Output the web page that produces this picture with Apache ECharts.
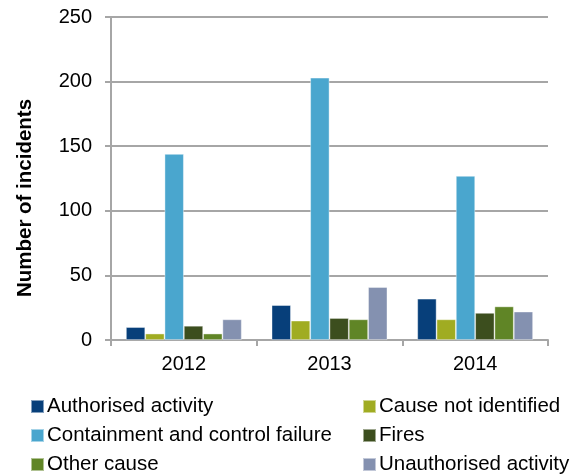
<!DOCTYPE html>
<html>
<head>
<meta charset="utf-8">
<script src="https://cdn.jsdelivr.net/npm/echarts@6/dist/echarts.min.js"></script>
<style>
  html, body { margin: 0; padding: 0; background: #fff; }
  #chart { width: 578px; height: 475px; }
</style>
</head>
<body>
<div id="chart"></div>
<script>
// categories and series
var years = ['2012', '2013', '2014'];
var authorised = [10, 27, 32];
var causeNotIdentified = [5, 15, 16];
var containment = [144, 203, 127];
var fires = [11, 17, 21];
var otherCause = [5, 16, 26];
var unauthorised = [16, 41, 22];

var colors = ['#073F7A', '#A0AC22', '#4AA6CE', '#3C4E1E', '#608526', '#8491B0'];
var names = ['Authorised activity', 'Cause not identified', 'Containment and control failure',
  'Fires', 'Other cause', 'Unauthorised activity'];
var values = [authorised, causeNotIdentified, containment, fires, otherCause, unauthorised];

var myChart = echarts.init(document.getElementById('chart'));
var font = 'Liberation Sans, Arial, sans-serif';

// one legend per entry, two columns x three rows
var legendPos = [[25, 391], [357, 391], [25, 420], [357, 420], [25, 449], [357, 449]];
var legends = names.map(function (n, i) {
  return {
    left: legendPos[i][0],
    top: legendPos[i][1],
    data: [n],
    itemWidth: 13,
    itemHeight: 13,
    icon: 'rect',
    selectedMode: false,
    textStyle: { fontFamily: font, fontSize: 20.5, color: '#000', padding: [0, 0, 0, -2] }
  };
});

var option = {
  animation: false,
  color: colors,
  grid: { left: 111, right: 30, top: 17, bottom: 135 },
  legend: legends,
  graphic: [{
    type: 'text',
    x: 25,
    y: 198,
    rotation: Math.PI / 2,
    style: {
      text: 'Number of incidents',
      fontFamily: font,
      fontSize: 20.5,
      fontWeight: 'bold',
      fill: '#000',
      align: 'center',
      verticalAlign: 'middle'
    }
  }],
  xAxis: {
    type: 'category',
    data: years,
    axisLine: { lineStyle: { color: '#A6A6A6', width: 2 } },
    axisTick: { show: true, length: 6, lineStyle: { color: '#A6A6A6', width: 2 } },
    axisLabel: { fontFamily: font, fontSize: 20, color: '#000', margin: 14 }
  },
  yAxis: {
    type: 'value',
    min: 0,
    max: 250,
    interval: 50,
    axisLine: { show: true, lineStyle: { color: '#A6A6A6', width: 2 } },
    axisTick: { show: true, length: 6, lineStyle: { color: '#A6A6A6', width: 2 } },
    splitLine: { lineStyle: { color: '#A6A6A6', width: 2 } },
    axisLabel: { fontFamily: font, fontSize: 20, color: '#000', margin: 19 }
  },
  series: names.map(function (n, i) {
    return {
      name: n,
      type: 'bar',
      data: values[i],
      barGap: '0%',
      barCategoryGap: '20.5%',
      itemStyle: { borderColor: 'rgba(255,255,255,0.5)', borderWidth: 0.8 }
    };
  })
};

myChart.setOption(option);
</script>
</body>
</html>
